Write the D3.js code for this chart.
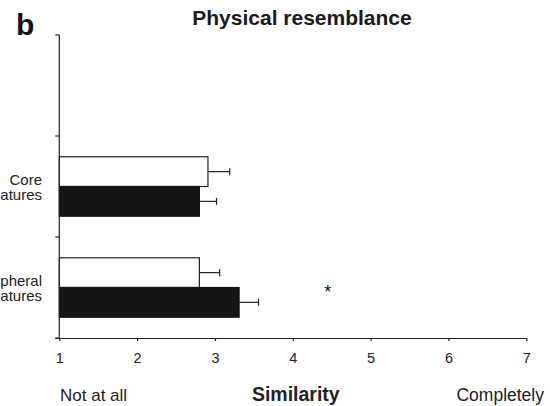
<!DOCTYPE html>
<html>
<head>
<meta charset="utf-8">
<script src="https://cdn.jsdelivr.net/npm/d3@7"></script>
<style>
  html, body { margin: 0; padding: 0; background: #fff; }
  svg { display: block; font-family: "Liberation Sans", Arial, Helvetica, sans-serif; }
</style>
</head>
<body>
<script>
// --- data ---
const categories = ["Core features", "Peripheral features"];
const openMeans = [2.91, 2.80];
const openErrors = [0.28, 0.26];
const filledMeans = [2.80, 3.31];
const filledErrors = [0.22, 0.25];
const xTicks = [1, 2, 3, 4, 5, 6, 7];
const significance = [{ category: "Peripheral features", value: 4.45, label: "*" }];

const width = 550;
const height = 406;
const margin = { top: 35, right: 23, bottom: 68, left: 59.3 };

const svg = d3.select("body")
  .append("svg")
  .attr("width", width)
  .attr("height", height)
  .attr("viewBox", `0 0 ${width} ${height}`);

svg.append("rect").attr("width", width).attr("height", height).attr("fill", "white");

const x = d3.scaleLinear()
  .domain([1, 7])
  .range([margin.left, width - margin.right - 0.7]);

// an empty slot sits above the two categories, as in the original panel
const y = d3.scaleBand()
  .domain(["", ...categories])
  .range([margin.top, height - margin.bottom])
  .padding(0);

const inner = d3.scaleBand()
  .domain(["open", "filled"])
  .range([0, y.bandwidth()])
  .paddingInner(0)
  .paddingOuter(0.7);

const rows = categories.flatMap((c, i) => [
  { cat: c, series: "open", mean: openMeans[i], err: openErrors[i] },
  { cat: c, series: "filled", mean: filledMeans[i], err: filledErrors[i] },
]);

// panel letter + title
svg.append("text")
  .attr("x", 16)
  .attr("y", 35)
  .attr("font-size", 30)
  .attr("font-weight", 700)
  .attr("fill", "#111")
  .text("b");

svg.append("text")
  .attr("x", 302)
  .attr("y", 25)
  .attr("text-anchor", "middle")
  .attr("font-size", 21)
  .attr("font-weight", 700)
  .attr("fill", "#1a1a1a")
  .text("Physical resemblance");

// error bars (drawn first so the bars sit on top)
const eb = svg.append("g").attr("stroke", "#222").attr("stroke-width", 1.2);
eb.selectAll("line.stem")
  .data(rows)
  .join("line")
  .attr("class", "stem")
  .attr("x1", (d) => x(d.mean))
  .attr("x2", (d) => x(d.mean + d.err))
  .attr("y1", (d) => y(d.cat) + inner(d.series) + inner.bandwidth() / 2)
  .attr("y2", (d) => y(d.cat) + inner(d.series) + inner.bandwidth() / 2);
eb.selectAll("line.cap")
  .data(rows)
  .join("line")
  .attr("class", "cap")
  .attr("x1", (d) => x(d.mean + d.err))
  .attr("x2", (d) => x(d.mean + d.err))
  .attr("y1", (d) => y(d.cat) + inner(d.series) + inner.bandwidth() / 2 - 3.5)
  .attr("y2", (d) => y(d.cat) + inner(d.series) + inner.bandwidth() / 2 + 3.5);

// bars
svg.append("g")
  .selectAll("rect")
  .data(rows)
  .join("rect")
  .attr("x", x(1))
  .attr("y", (d) => y(d.cat) + inner(d.series))
  .attr("width", (d) => x(d.mean) - x(1))
  .attr("height", inner.bandwidth())
  .attr("fill", (d) => (d.series === "open" ? "#fff" : "#151515"))
  .attr("stroke", (d) => (d.series === "open" ? "#222" : "#151515"))
  .attr("stroke-width", 1.2);

// x axis
const xAxis = svg.append("g")
  .attr("transform", `translate(0,${height - margin.bottom})`)
  .call(d3.axisBottom(x).tickValues(xTicks).tickFormat(d3.format("d")).tickSize(3).tickPadding(12).tickSizeOuter(0));
xAxis.select(".domain").attr("d", `M${x(1) - 4},0.5H${x(7)}`).attr("stroke", "#222").attr("stroke-width", 1.2);
xAxis.selectAll(".tick line").attr("stroke", "#222").attr("stroke-width", 1.2);
xAxis.selectAll(".tick text")
  .attr("font-size", 14.5)
  .attr("fill", "#222")
  .attr("font-family", "Liberation Sans, Arial, sans-serif");

// y axis: ticks on band boundaries, no category tick labels from the axis
const yBounds = [...y.domain().map((d) => y(d)), y.range()[1]];
svg.append("line")
  .attr("x1", x(1)).attr("x2", x(1))
  .attr("y1", y.range()[0]).attr("y2", y.range()[1])
  .attr("stroke", "#222").attr("stroke-width", 1.2);
svg.append("g")
  .selectAll("line")
  .data(yBounds)
  .join("line")
  .attr("x1", x(1) - 4)
  .attr("x2", x(1))
  .attr("y1", (d) => d)
  .attr("y2", (d) => d)
  .attr("stroke", "#222").attr("stroke-width", 1.2);

// category labels (two lines, right aligned, partly off the left edge as in the source)
const catLabel = svg.append("g")
  .selectAll("text")
  .data(categories)
  .join("text")
  .attr("text-anchor", "end")
  .attr("font-size", 15)
  .attr("fill", "#222")
  .attr("transform", (d) => `translate(42,${y(d) + y.bandwidth() / 2 - 2})`);
catLabel.append("tspan").attr("x", 0).attr("dy", 0).text((d) => d.split(" ")[0]);
catLabel.append("tspan").attr("x", 0).attr("dy", 15.7).text((d) => d.split(" ")[1]);

// significance marker
svg.append("g")
  .selectAll("text")
  .data(significance)
  .join("text")
  .attr("x", (d) => x(d.value))
  .attr("y", (d) => y(d.category) + y.bandwidth() / 2 + 10)
  .attr("text-anchor", "middle")
  .attr("font-size", 18)
  .attr("fill", "#111")
  .text((d) => d.label);

// axis captions
svg.append("text")
  .attr("x", 60)
  .attr("y", 401)
  .attr("font-size", 17)
  .attr("fill", "#222")
  .text("Not at all");

svg.append("text")
  .attr("x", (x(1) + x(7)) / 2 + 3)
  .attr("y", 401)
  .attr("text-anchor", "middle")
  .attr("font-size", 19.5)
  .attr("font-weight", 700)
  .attr("fill", "#222")
  .text("Similarity");

svg.append("text")
  .attr("x", 544)
  .attr("y", 401)
  .attr("text-anchor", "end")
  .attr("font-size", 17.5)
  .attr("fill", "#222")
  .text("Completely");
</script>
</body>
</html>
